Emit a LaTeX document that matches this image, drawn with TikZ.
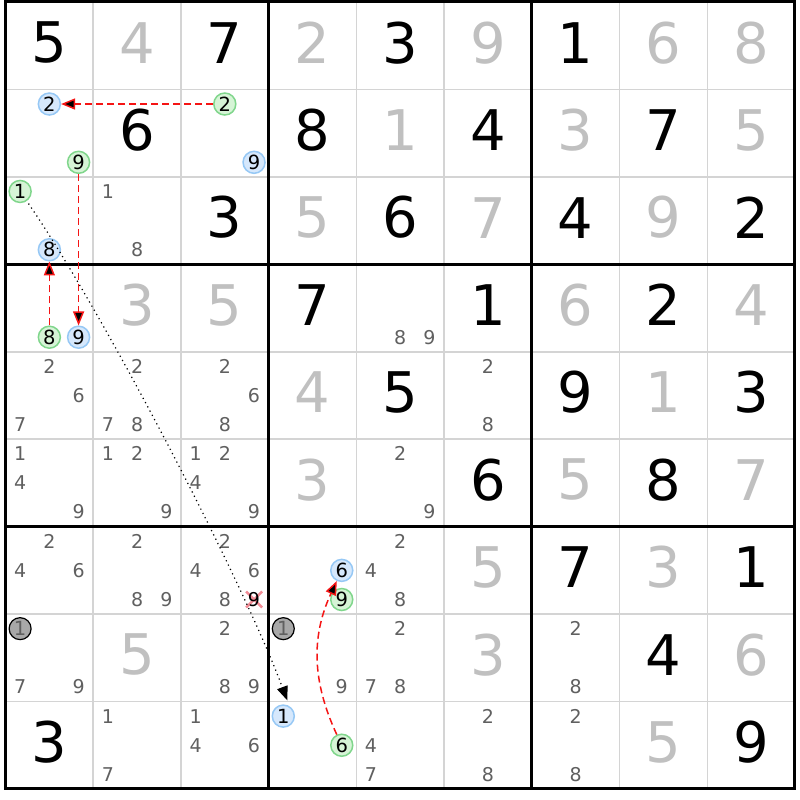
\documentclass[tikz,border=0pt]{standalone}
\usepackage{fontspec}
\setmainfont{DejaVu Sans}
\usetikzlibrary{arrows.meta}

\definecolor{solvedcol}{RGB}{192,192,192}
\definecolor{candcol}{RGB}{96,96,96}
\definecolor{thincol}{RGB}{212,212,212}
\definecolor{bluefill}{RGB}{214,232,252}
\definecolor{bluedraw}{RGB}{150,200,245}
\definecolor{greenfill}{RGB}{214,244,214}
\definecolor{greendraw}{RGB}{128,214,140}
\definecolor{grayfill}{RGB}{168,168,168}
\definecolor{linkred}{RGB}{245,20,20}
\definecolor{crosscol}{RGB}{242,140,150}

\begin{document}
\begin{tikzpicture}[x=87.72pt,y=-87.44pt,
	given/.style={font=\fontsize{56}{56}\selectfont,inner sep=0pt,yshift=3pt},
	solved/.style={given,text=solvedcol},
	cand/.style={font=\fontsize{19}{19}\selectfont,inner sep=0pt,text=candcol},
	ring/.style={circle,minimum size=22pt,inner sep=0pt,line width=1.5pt,font=\fontsize{19.5}{19.5}\selectfont},
	ringblue/.style={ring,draw=bluedraw,fill=bluefill},
	ringgreen/.style={ring,draw=greendraw,fill=greenfill},
	ringgray/.style={ring,draw=black,fill=grayfill,text=candcol,line width=1.2pt},
	strong/.style={draw=linkred,line width=1.5pt,dash pattern=on 7pt off 4pt,-{Triangle[length=14pt,width=11pt]}},
	weak/.style={draw=black,line width=1.2pt,dash pattern=on 1.2pt off 3.6pt,-{Triangle[length=14pt,width=11pt]}}]
	\useasboundingbox[fill=white] (-5.5pt,2pt) rectangle (794.5pt,-798pt);
	
	% grid
	\foreach \i in {1,2,4,5,7,8} {
		\draw[thincol,line width=1.5pt] (\i,0) -- (\i,9);
		\draw[thincol,line width=1.5pt] (0,\i) -- (9,\i);
	}
	\foreach \i in {3,6} {
		\draw[line width=3pt] (\i,0) -- (\i,9);
		\draw[line width=3pt] (0,\i) -- (9,\i);
	}
	\draw[line width=3pt] (0,0) rectangle (9,9);
	
	% givens and solved cells
	\foreach \r/\c/\d in {1/1/5,1/3/7,1/5/3,1/7/1,2/2/6,2/4/8,2/6/4,2/8/7,3/3/3,3/5/6,3/7/4,3/9/2,
		4/4/7,4/6/1,4/8/2,5/5/5,5/7/9,5/9/3,6/6/6,6/8/8,7/7/7,7/9/1,8/8/4,9/1/3,9/9/9}
		\node[given] (v\r\c) at (\c-0.5,\r-0.5) {\d};
	\foreach \r/\c/\d in {1/2/4,1/4/2,1/6/9,1/8/6,1/9/8,2/5/1,2/7/3,2/9/5,3/4/5,3/6/7,3/8/9,
		4/2/3,4/3/5,4/7/6,4/9/4,5/4/4,5/8/1,6/4/3,6/7/5,6/9/7,7/6/5,7/8/3,8/2/5,8/6/3,8/9/6,9/8/5}
		\node[solved] (v\r\c) at (\c-0.5,\r-0.5) {\d};
	
	% candidates
	\foreach \r/\c/\d in {3/2/1,3/2/8,4/5/8,4/5/9,5/1/2,5/1/6,5/1/7,5/2/2,5/2/7,5/2/8,5/3/2,5/3/6,5/3/8,
		5/6/2,5/6/8,6/1/1,6/1/4,6/1/9,6/2/1,6/2/2,6/2/9,6/3/1,6/3/2,6/3/4,6/3/9,6/5/2,6/5/9,
		7/1/2,7/1/4,7/1/6,7/2/2,7/2/8,7/2/9,7/3/2,7/3/4,7/3/6,7/3/8,7/5/2,7/5/4,7/5/8,
		8/1/7,8/1/9,8/3/2,8/3/8,8/3/9,8/4/9,8/5/2,8/5/7,8/5/8,8/7/2,8/7/8,
		9/2/1,9/2/7,9/3/1,9/3/4,9/3/6,9/5/4,9/5/7,9/6/2,9/6/8,9/7/2,9/7/8}
		\node[cand] (c\r\c\d) at ({\c-1+(2*mod(\d-1,3)+1)/6},{\r-1+(2*div(\d-1,3)+1)/6}) {\d};
	
	% eliminated candidate
	\coordinate (x739) at ({2+5/6},{6+5/6});
	\draw[crosscol,line width=2.5pt] ([shift={(-8pt,-8pt)}]x739) -- ([shift={(8pt,8pt)}]x739)
		([shift={(-8pt,8pt)}]x739) -- ([shift={(8pt,-8pt)}]x739);
	\node[cand,text=black] (c739) at (x739) {9};
	
	% marked candidates
	\foreach \r/\c/\d/\s in {2/1/2/ringblue,2/1/9/ringgreen,2/3/2/ringgreen,2/3/9/ringblue,
		3/1/1/ringgreen,3/1/8/ringblue,4/1/8/ringgreen,4/1/9/ringblue,7/4/6/ringblue,7/4/9/ringgreen,
		8/1/1/ringgray,8/4/1/ringgray,9/4/1/ringblue,9/4/6/ringgreen}
		\node[\s] (c\r\c\d) at ({\c-1+(2*mod(\d-1,3)+1)/6},{\r-1+(2*div(\d-1,3)+1)/6}) {\d};
	
	% links
	\path[strong] (c232) edge (c212);
	\path[strong] (c219) edge (c419);
	\path[strong] (c418) edge (c318);
	\path[strong] (c946) edge[bend left=25] (c746);
	\path[weak] (c311) edge[bend left=7,looseness=0.6,shorten <=3pt] ([shift={(4pt,4pt)}]c941.north);
\end{tikzpicture}
\end{document}
